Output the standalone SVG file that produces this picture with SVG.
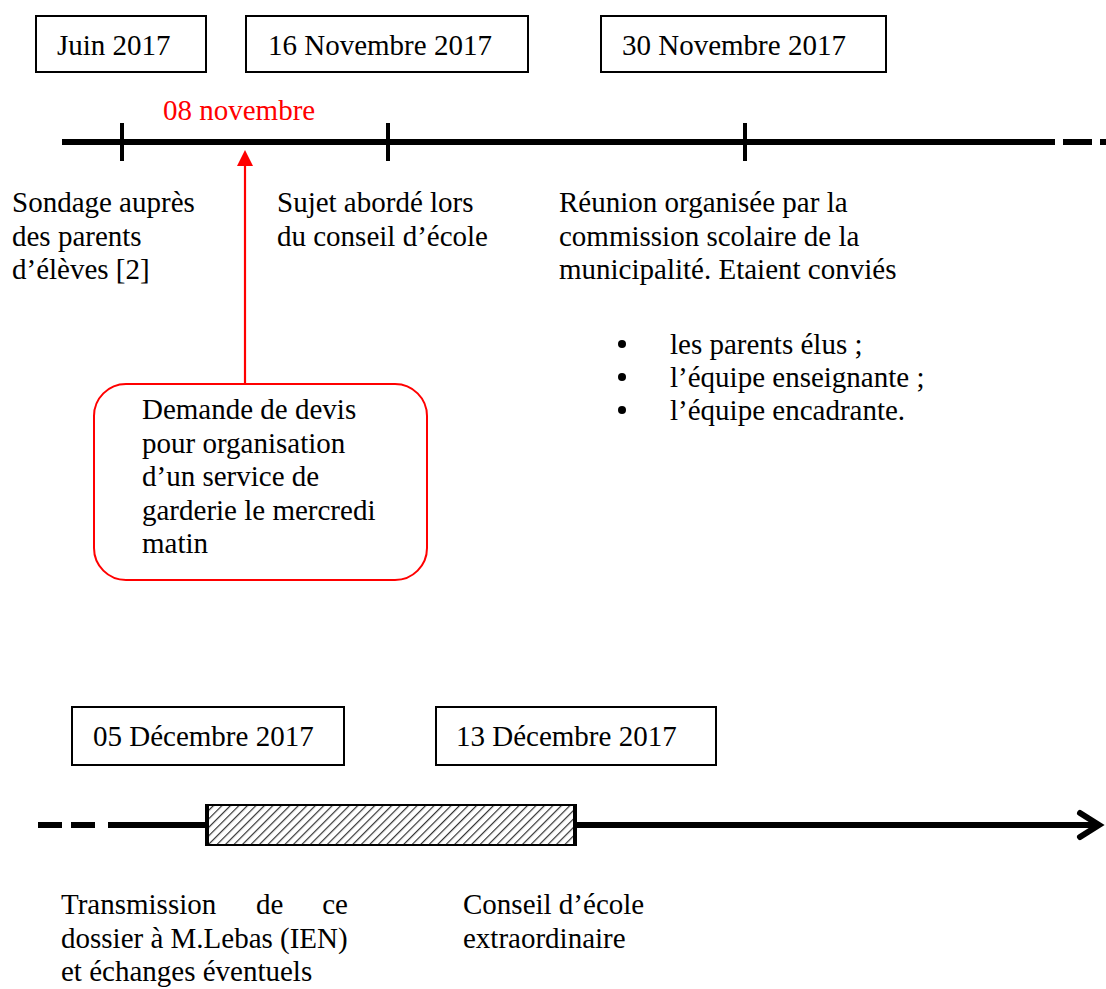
<svg xmlns="http://www.w3.org/2000/svg" width="1106" height="989" viewBox="0 0 1106 989">
<style>
.t{font-family:"Liberation Serif","Times New Roman",serif;font-size:29px;fill:#000}
.r{fill:#ff0000}
.box{fill:#fff;stroke:#000;stroke-width:2}
.axis{stroke:#000;stroke-width:6;fill:none}
.tick{stroke:#000;stroke-width:4}
</style>
<defs>
<pattern id="hatch" patternUnits="userSpaceOnUse" width="6" height="6" patternTransform="rotate(45)">
<rect width="6" height="6" fill="#fff"/>
<line x1="0" y1="0" x2="0" y2="6" stroke="#333" stroke-width="2.4"/>
</pattern>
<marker id="redhead" markerWidth="16" markerHeight="16" refX="0" refY="8" orient="auto" markerUnits="userSpaceOnUse">
<path d="M0,0 L16,8 L0,16 Z" fill="#ff0000"/>
</marker>
</defs>

<g id="connectors">
<line class="axis" x1="62" y1="142" x2="1055" y2="142"/>
<line class="axis" x1="1063" y1="142" x2="1092" y2="142"/>
<line class="axis" x1="1100" y1="142" x2="1110" y2="142"/>
<line class="tick" x1="122" y1="123" x2="122" y2="161"/>
<line class="tick" x1="388" y1="123" x2="388" y2="161"/>
<line class="tick" x1="745" y1="123" x2="745" y2="161"/>
<line x1="245" y1="383" x2="245" y2="166" stroke="#ff0000" stroke-width="2.2" marker-end="url(#redhead)"/>
<line class="axis" x1="38" y1="825" x2="62" y2="825"/>
<line class="axis" x1="71" y1="825" x2="95" y2="825"/>
<line class="axis" x1="108" y1="825" x2="207" y2="825"/>
<line class="axis" x1="575" y1="825" x2="1097" y2="825"/>
<path d="M1080,813 L1099,825 L1080,837" fill="none" stroke="#000" stroke-width="6" stroke-linecap="round" stroke-linejoin="miter"/>
</g>

<g id="juin">
<rect class="box" x="36" y="16" width="170" height="56"/>
<text class="t" x="57" y="55">Juin 2017</text>
</g>
<g id="nov16">
<rect class="box" x="246" y="16" width="282" height="56"/>
<text class="t" x="268" y="55">16 Novembre 2017</text>
</g>
<g id="nov30">
<rect class="box" x="601" y="16" width="285" height="56"/>
<text class="t" x="622" y="55">30 Novembre 2017</text>
</g>
<g id="nov08">
<text class="t r" x="163" y="120">08 novembre</text>
</g>

<g id="sondage">
<text class="t" x="12" y="212">Sondage auprès</text>
<text class="t" x="12" y="245.5">des parents</text>
<text class="t" x="12" y="279">d’élèves [2]</text>
</g>
<g id="sujet">
<text class="t" x="277" y="212">Sujet abordé lors</text>
<text class="t" x="277" y="245.5">du conseil d’école</text>
</g>
<g id="reunion">
<text class="t" x="559" y="212">Réunion organisée par la</text>
<text class="t" x="559" y="245.5">commission scolaire de la</text>
<text class="t" x="559" y="279">municipalité. Etaient conviés</text>
<circle cx="622" cy="344" r="4"/>
<circle cx="622" cy="377" r="4"/>
<circle cx="622" cy="410" r="4"/>
<text class="t" x="670" y="354">les parents élus ;</text>
<text class="t" x="670" y="387">l’équipe enseignante ;</text>
<text class="t" x="670" y="420">l’équipe encadrante.</text>
</g>

<g id="devis">
<rect x="94" y="384" width="333" height="196" rx="32" ry="32" fill="#fff" stroke="#ff0000" stroke-width="2"/>
<text class="t" x="142" y="419">Demande de devis</text>
<text class="t" x="142" y="452.5">pour organisation</text>
<text class="t" x="142" y="486">d’un service de</text>
<text class="t" x="142" y="519.5">garderie le mercredi</text>
<text class="t" x="142" y="553">matin</text>
</g>

<g id="dec05">
<rect class="box" x="72" y="707" width="272" height="58"/>
<text class="t" x="93" y="746">05 Décembre 2017</text>
</g>
<g id="dec13">
<rect class="box" x="436" y="707" width="280" height="58"/>
<text class="t" x="456" y="746">13 Décembre 2017</text>
</g>

<g id="periode">
<rect x="207" y="805" width="368" height="40" fill="url(#hatch)" stroke="#000" stroke-width="2"/>
<line x1="207" y1="804" x2="207" y2="846" stroke="#000" stroke-width="4"/>
<line x1="575" y1="804" x2="575" y2="846" stroke="#000" stroke-width="4"/>
</g>

<g id="transmission">
<text class="t" x="61" y="914">Transmission</text>
<text class="t" x="256" y="914">de</text>
<text class="t" x="348" y="914" text-anchor="end">ce</text>
<text class="t" x="61" y="947.5">dossier à M.Lebas (IEN)</text>
<text class="t" x="61" y="981">et échanges éventuels</text>
</g>
<g id="conseil">
<text class="t" x="463" y="914">Conseil d’école</text>
<text class="t" x="463" y="947.5">extraordinaire</text>
</g>
</svg>
